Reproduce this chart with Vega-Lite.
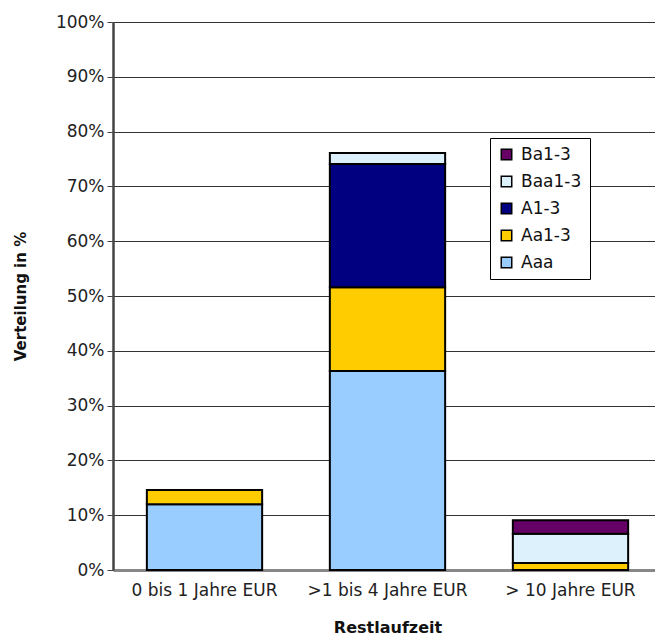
{
  "$schema": "https://vega.github.io/schema/vega-lite/v6.json",
  "autosize": "none",
  "width": 549,
  "height": 548,
  "padding": {"left": 113, "top": 22, "right": 0, "bottom": 69},
  "background": "white",
  "config": {"view": {"stroke": null}, "font": "DejaVu Sans"},
  "data": {"values": [
    {"cat": "0 bis 1 Jahre EUR", "rating": "Aaa", "rank": 1, "value": 12.0},
    {"cat": "0 bis 1 Jahre EUR", "rating": "Aa1-3", "rank": 2, "value": 2.6},
    {"cat": ">1 bis 4 Jahre EUR", "rating": "Aaa", "rank": 1, "value": 36.3},
    {"cat": ">1 bis 4 Jahre EUR", "rating": "Aa1-3", "rank": 2, "value": 15.3},
    {"cat": ">1 bis 4 Jahre EUR", "rating": "A1-3", "rank": 3, "value": 22.5},
    {"cat": ">1 bis 4 Jahre EUR", "rating": "Baa1-3", "rank": 4, "value": 2.0},
    {"cat": "> 10 Jahre EUR", "rating": "Aa1-3", "rank": 2, "value": 1.3},
    {"cat": "> 10 Jahre EUR", "rating": "Baa1-3", "rank": 4, "value": 5.3},
    {"cat": "> 10 Jahre EUR", "rating": "Ba1-3", "rank": 5, "value": 2.5}
  ]},
  "mark": {"type": "bar", "stroke": "black", "strokeWidth": 2},
  "encoding": {
    "x": {
      "field": "cat", "type": "nominal", "sort": null,
      "scale": {"paddingInner": 0.37, "paddingOuter": 0.185},
      "axis": {
        "title": "Restlaufzeit", "titleFontSize": 16, "titleFontWeight": "bold", "titlePadding": 21, "titleColor": "#111",
        "labelAngle": 0, "labelFontSize": 17, "labelColor": "#222", "labelPadding": 12,
        "ticks": false, "domainColor": "#888", "domainWidth": 3
      }
    },
    "y": {
      "field": "value", "type": "quantitative", "stack": "zero",
      "scale": {"domain": [0, 100]},
      "axis": {
        "title": "Verteilung in %", "titleFontSize": 15, "titleFontWeight": "bold", "titlePadding": 27, "titleColor": "#111",
        "values": [0, 10, 20, 30, 40, 50, 60, 70, 80, 90, 100],
        "labelExpr": "datum.value + '%'", "labelFontSize": 17, "labelColor": "#222", "labelPadding": 3,
        "tickColor": "#444", "tickSize": 6, "domainColor": "#444", "domainWidth": 2.5,
        "grid": true, "gridColor": "#333", "gridWidth": 1
      }
    },
    "color": {
      "field": "rating", "type": "nominal",
      "scale": {
        "domain": ["Ba1-3", "Baa1-3", "A1-3", "Aa1-3", "Aaa"],
        "range": ["#660066", "#DDF1FD", "#000080", "#FFCC00", "#99CCFF"]
      },
      "legend": {
        "title": null, "orient": "none", "legendX": 377, "legendY": 116,
        "symbolType": "square", "symbolSize": 110, "symbolStrokeColor": "black", "symbolStrokeWidth": 1.5,
        "labelFontSize": 17, "labelColor": "#111", "rowPadding": 9, "labelOffset": 6,
        "strokeColor": "black", "fillColor": "white", "padding": 8
      }
    },
    "order": {"field": "rank", "type": "quantitative"}
  }
}
